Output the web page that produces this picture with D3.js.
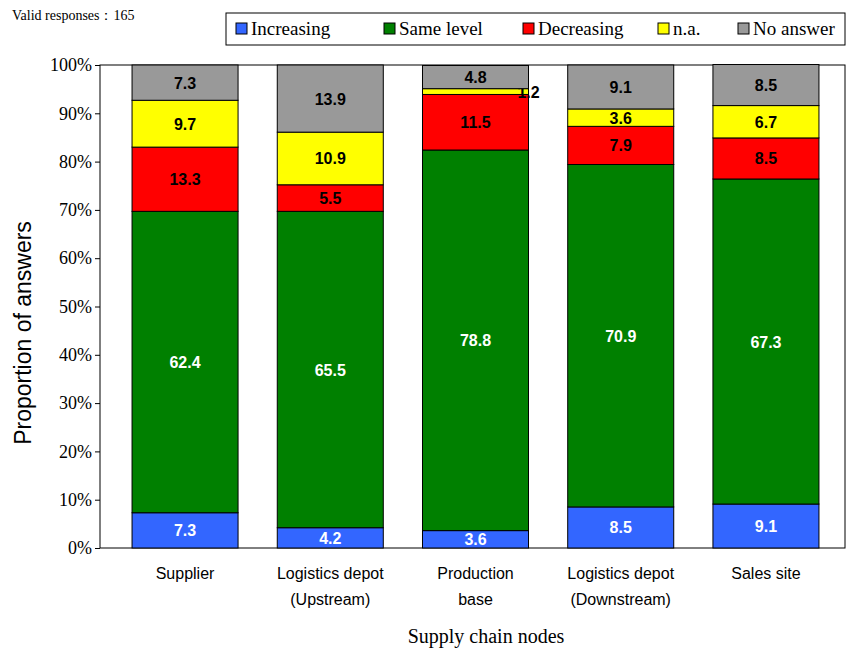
<!DOCTYPE html>
<html><head><meta charset="utf-8">
<script src="https://cdn.jsdelivr.net/npm/d3@7"></script>
<style>body{margin:0;background:#fff}</style>
</head><body>
<div id="chart"></div>
<script>
var categories = [["Supplier"], ["Logistics depot", "(Upstream)"], ["Production", "base"], ["Logistics depot", "(Downstream)"], ["Sales site"]];
var seriesNames = ["Increasing", "Same level", "Decreasing", "n.a.", "No answer"];
var seriesColors = ["#3366ff", "#008000", "#ff0000", "#ffff00", "#999999"];
var increasing = [7.3, 4.2, 3.6, 8.5, 9.1];
var sameLevel = [62.4, 65.5, 78.8, 70.9, 67.3];
var decreasing = [13.3, 5.5, 11.5, 7.9, 8.5];
var na = [9.7, 10.9, 1.2, 3.6, 6.7];
var noAnswer = [7.3, 13.9, 4.8, 9.1, 8.5];
var yTicks = [0, 10, 20, 30, 40, 50, 60, 70, 80, 90, 100];

var W = 850, H = 651, plotL = 100, plotR = 845, plotT = 65, plotB = 548;
var svg = d3.select("#chart").append("svg").attr("width", W).attr("height", H);

var x = d3.scaleBand().domain(d3.range(5)).range([plotL + 3, plotR + 3]).paddingInner(0.27).paddingOuter(0.2);
var y = d3.scaleLinear().domain([0, 100]).range([plotB, plotT]);

var rows = categories.map(function (c, i) {
  return {i: i, v: [increasing[i], sameLevel[i], decreasing[i], na[i], noAnswer[i]]};
});

svg.append("rect").attr("x", plotL).attr("y", plotT).attr("width", plotR - plotL).attr("height", plotB - plotT)
  .attr("fill", "none").attr("stroke", "#000");

rows.forEach(function (r) {
  var acc = 0;
  r.v.forEach(function (v, k) {
    var y0 = acc, y1 = acc + v; acc = y1;
    svg.append("rect").attr("x", x(r.i)).attr("width", x.bandwidth())
      .attr("y", y(y1)).attr("height", y(y0) - y(y1))
      .attr("fill", seriesColors[k]).attr("stroke", "#000").attr("stroke-width", 1);
    var small = v < 2;
    svg.append("text")
      .attr("x", small ? x(r.i) + x.bandwidth() : x(r.i) + x.bandwidth() / 2)
      .attr("y", y((y0 + y1) / 2) + 6)
      .attr("text-anchor", "middle")
      .attr("font-family", "Liberation Sans, Arial").attr("font-weight", "bold").attr("font-size", 16)
      .attr("fill", (k < 2) ? "#fff" : "#000").text(v.toFixed(1));
  });
});

var yAxis = svg.append("g").attr("transform", "translate(" + plotL + ",0)")
  .call(d3.axisLeft(y).tickValues(yTicks).tickSize(5).tickFormat(function (d) { return d + "%"; }));
yAxis.select(".domain").remove();
yAxis.selectAll("text").attr("font-family", "Liberation Serif, Times New Roman").attr("font-size", 18).attr("fill", "#000");

var xg = svg.selectAll(".xl").data(categories).enter().append("text")
  .attr("text-anchor", "middle").attr("font-family", "Liberation Sans, Arial").attr("font-size", 16)
  .attr("x", function (d, i) { return x(i) + x.bandwidth() / 2; }).attr("y", 579);
xg.selectAll("tspan").data(function (d) { return d; }).enter().append("tspan")
  .attr("x", function () { return this.parentNode.getAttribute("x"); })
  .attr("dy", function (d, j) { return j ? 26 : 0; }).text(function (d) { return d; });

svg.append("text").attr("x", 486).attr("y", 643).attr("text-anchor", "middle")
  .attr("font-family", "Liberation Serif, Times New Roman").attr("font-size", 20).text("Supply chain nodes");
svg.append("text").attr("transform", "translate(31,333) rotate(-90)").attr("text-anchor", "middle")
  .attr("font-family", "Liberation Sans, Arial").attr("font-size", 23).text("Proportion of answers");
svg.append("text").attr("x", 12).attr("y", 20)
  .attr("font-family", "Liberation Serif, Times New Roman").attr("font-size", 14).text("Valid responses\uff1a165");

var lg = svg.append("g");
lg.append("rect").attr("x", 226).attr("y", 13).attr("width", 619).attr("height", 32).attr("fill", "#fff").attr("stroke", "#000");
var lx = [236, 384, 523, 658, 738];
seriesNames.forEach(function (n, k) {
  lg.append("rect").attr("x", lx[k]).attr("y", 23).attr("width", 11).attr("height", 11)
    .attr("fill", seriesColors[k]).attr("stroke", "#000");
  lg.append("text").attr("x", lx[k] + 15).attr("y", 35).attr("font-family", "Liberation Serif, Times New Roman")
    .attr("font-size", 19).text(n);
});
</script>
</body></html>
